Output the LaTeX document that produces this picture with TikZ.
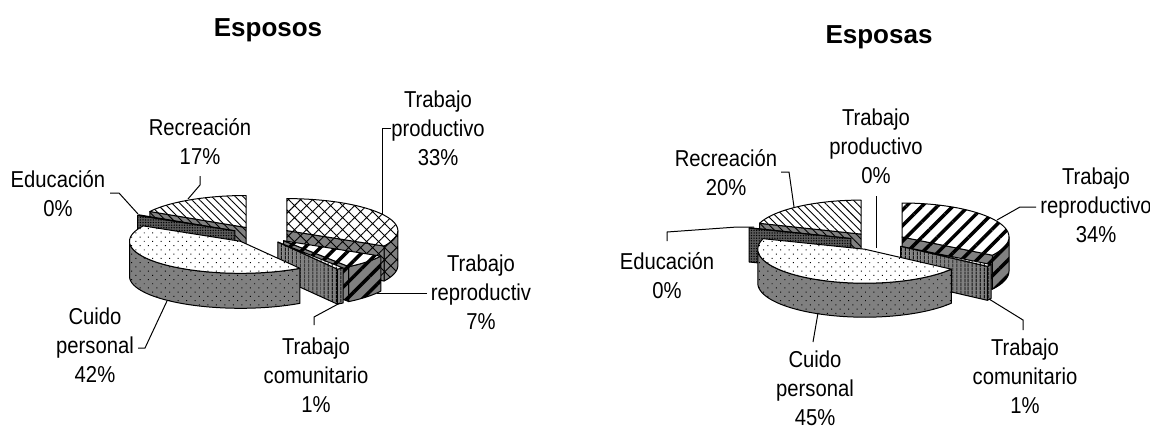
\documentclass[tikz,border=0pt]{standalone}
\usepackage{fontspec}
\setmainfont{Liberation Sans}
\newfontfamily\lblfont[FakeStretch=0.88]{Liberation Sans}
\usetikzlibrary{patterns,patterns.meta}
\definecolor{sidegray}{HTML}{808080}
\definecolor{darkgray}{HTML}{5A5A5A}
\def\RX{111}\def\RY{32}\def\HH{35}
% top face of a slice: apex (#2,#3), angles #4..#5
\newcommand\pieTop[5]{\path[#1] (#2,#3) -- plot[domain=#4:#5,samples=60] ({#2+\RX*cos(\x)},{#3-\RY*sin(\x)}) -- cycle;}
% outer wall
\newcommand\pieWall[5]{\path[#1] plot[domain=#4:#5,samples=60] ({#2+\RX*cos(\x)},{#3-\RY*sin(\x)}) -- plot[domain=#5:#4,samples=60] ({#2+\RX*cos(\x)},{#3+\HH-\RY*sin(\x)}) -- cycle;}
% radial cut face
\newcommand\pieFace[4]{\path[#1] (#2,#3) -- ({#2+\RX*cos(#4)},{#3-\RY*sin(#4)}) -- ({#2+\RX*cos(#4)},{#3+\HH-\RY*sin(#4)}) -- (#2,{#3+\HH}) -- cycle;}
\tikzset{
 pprod/.style={pattern={Hatch[angle=45,distance=8.5pt,line width=0.9pt]}},
 prepr/.style={pattern={Lines[angle=45,distance=11pt,line width=3.5pt]}},
 pcom/.style={pattern={Lines[angle=90,distance=4pt,line width=1.3pt]}},
 pcui/.style={pattern={Dots[angle=45,distance=6pt,radius=0.7pt]}},
 pedu/.style={pattern={Dots[distance=2.6pt,radius=0.75pt]}},
 prec/.style={pattern={Lines[angle=-45,distance=5.5pt,line width=0.9pt]}},
 topface/.style={preaction={fill=white},preaction={#1},draw=black,line width=1pt,line join=round},
 sideface/.style={preaction={fill=sidegray},preaction={#1},draw=black,line width=1pt,line join=round},
 darkface/.style={preaction={fill=darkgray},preaction={#1},draw=black,line width=1pt,line join=round},
 lbl/.style={font=\lblfont\fontsize{23}{29}\selectfont,align=center,inner sep=0pt,anchor=north},
 ttl/.style={font=\fontsize{26}{30}\selectfont\bfseries,inner sep=0pt,anchor=base},
 leader/.style={draw=black,line width=1pt},
}
\begin{document}
\begin{tikzpicture}[x=1pt,y=-1pt]
\useasboundingbox (0,0) rectangle (1150,428);
\fill[white] (0,0) rectangle (1150,428);

% ---------------- Esposos ----------------
\node[ttl] (t1) at (268,37) {Esposos};
\def\RX{111}\def\RY{32}\def\HH{35}
% Recreacion
\pieFace{sideface=prec}{246}{227.5}{150}
\pieTop{topface=prec}{246}{227.5}{90}{150}
% Educacion
\pieFace{darkface=pedu}{234.9}{230.8}{151.2}
\pieTop{sideface=pedu}{234.9}{230.8}{150}{151.2}
% Trabajo productivo
\pieWall{sideface=pprod}{286.8}{230.6}{-28.8}{0}
\pieFace{sideface=pprod}{286.8}{230.6}{-28.8}
\pieTop{topface=pprod}{286.8}{230.6}{-28.8}{90}
% Trabajo reproductivo
\pieWall{sideface=prepr}{283.5}{240.7}{-54}{-28.8}
\pieFace{sideface=prepr}{283.5}{240.7}{-54}
\pieTop{topface=prepr}{283.5}{240.7}{-54}{-28.8}
% Trabajo comunitario
\pieWall{sideface=pcom}{277.9}{242.1}{-57.6}{-54}
\pieFace{sideface=pcom}{277.9}{242.1}{-57.6}
\pieTop{topface=pcom}{277.9}{242.1}{-57.6}{-54}
% Cuido personal
\pieWall{sideface=pcui}{240.5}{241.3}{-180}{-57.6}
\pieTop{topface=pcui}{240.5}{241.3}{-208.8}{-57.6}

\node[lbl] (l1) at (438,91) {Trabajo\\productivo\\33\%};
\node[lbl] (l2) at (200,118) {Recreación\\17\%};
\node[lbl] (l3) at (58,170) {Educación\\0\%};
\node[lbl] (l4) at (481,255) {Trabajo\\reproductiv\\7\%};
\node[lbl] (l5) at (316,338) {Trabajo\\comunitario\\1\%};
\node[lbl] (l6) at (95,308) {Cuido\\personal\\42\%};

\coordinate (l1a) at (391,128); \coordinate (l1b) at (382,128); \coordinate (l1e) at (382,214);
\draw[leader] (l1a) -- (l1b) -- (l1e);
\coordinate (l2a) at (200,176); \coordinate (l2b) at (200,185); \coordinate (l2e) at (188,199);
\draw[leader] (l2a) -- (l2b) -- (l2e);
\coordinate (l3a) at (110,193); \coordinate (l3b) at (119,193); \coordinate (l3e) at (138,214);
\draw[leader] (l3a) -- (l3b) -- (l3e);
\coordinate (l4a) at (427,293); \coordinate (l4e) at (377,293);
\draw[leader] (l4a) -- (l4e);
\coordinate (l5a) at (314,325); \coordinate (l5b) at (314,317); \coordinate (l5e) at (340,303);
\draw[leader] (l5a) -- (l5b) -- (l5e);
\coordinate (l6a) at (138,348); \coordinate (l6b) at (145,348); \coordinate (l6e) at (167,301);
\draw[leader] (l6a) -- (l6b) -- (l6e);

% ---------------- Esposas ----------------
\node[ttl] (t2) at (879,44) {Esposas};
\def\RX{107}\def\RY{34}\def\HH{34}
% Recreacion
\pieFace{sideface=prec}{861}{234.1}{161.5}
\pieTop{topface=prec}{861}{234.1}{90}{161.5}
% Educacion
\pieFace{darkface=pedu}{850.9}{238.5}{162}
\pieTop{sideface=pedu}{850.9}{238.5}{161.5}{162}
% Trabajo reproductivo
\pieWall{sideface=prepr}{902}{237}{-32.4}{0}
\pieFace{sideface=prepr}{902}{237}{-32.4}
\pieTop{topface=prepr}{902}{237}{-32.4}{90}
% Trabajo comunitario
\pieWall{sideface=pcom}{900.7}{246.3}{-36}{-32.4}
\pieFace{sideface=pcom}{900.7}{246.3}{-36}
\pieTop{topface=pcom}{900.7}{246.3}{-36}{-32.4}
% Cuido personal
\pieWall{sideface=pcui}{864.8}{249.2}{-180}{-36}
\pieTop{topface=pcui}{864.8}{249.2}{-198}{-36}

\node[lbl] (r1) at (876,109) {Trabajo\\productivo\\0\%};
\node[lbl] (r2) at (726,149) {Recreación\\20\%};
\node[lbl] (r3) at (1096,168) {Trabajo\\reproductivo\\34\%};
\node[lbl] (r4) at (667,252) {Educación\\0\%};
\node[lbl] (r5) at (815,351) {Cuido\\personal\\45\%};
\node[lbl] (r6) at (1025,339) {Trabajo\\comunitario\\1\%};

\coordinate (r1a) at (876,196); \coordinate (r1e) at (876,248);
\draw[leader] (r1a) -- (r1e);
\coordinate (r2a) at (781,172); \coordinate (r2b) at (789,172); \coordinate (r2e) at (794,207);
\draw[leader] (r2a) -- (r2b) -- (r2e);
\coordinate (r3a) at (1036,207); \coordinate (r3b) at (1020,207); \coordinate (r3e) at (997,220);
\draw[leader] (r3a) -- (r3b) -- (r3e);
\coordinate (r4a) at (667,241); \coordinate (r4b) at (667,232); \coordinate (r4c) at (737,227); \coordinate (r4e) at (754,227);
\draw[leader] (r4a) -- (r4b) -- (r4c) -- (r4e);
\coordinate (r5a) at (813,342); \coordinate (r5e) at (818,313);
\draw[leader] (r5a) -- (r5e);
\coordinate (r6a) at (1023,330); \coordinate (r6b) at (1023,320); \coordinate (r6e) at (989,299);
\draw[leader] (r6a) -- (r6b) -- (r6e);
\end{tikzpicture}
\end{document}
